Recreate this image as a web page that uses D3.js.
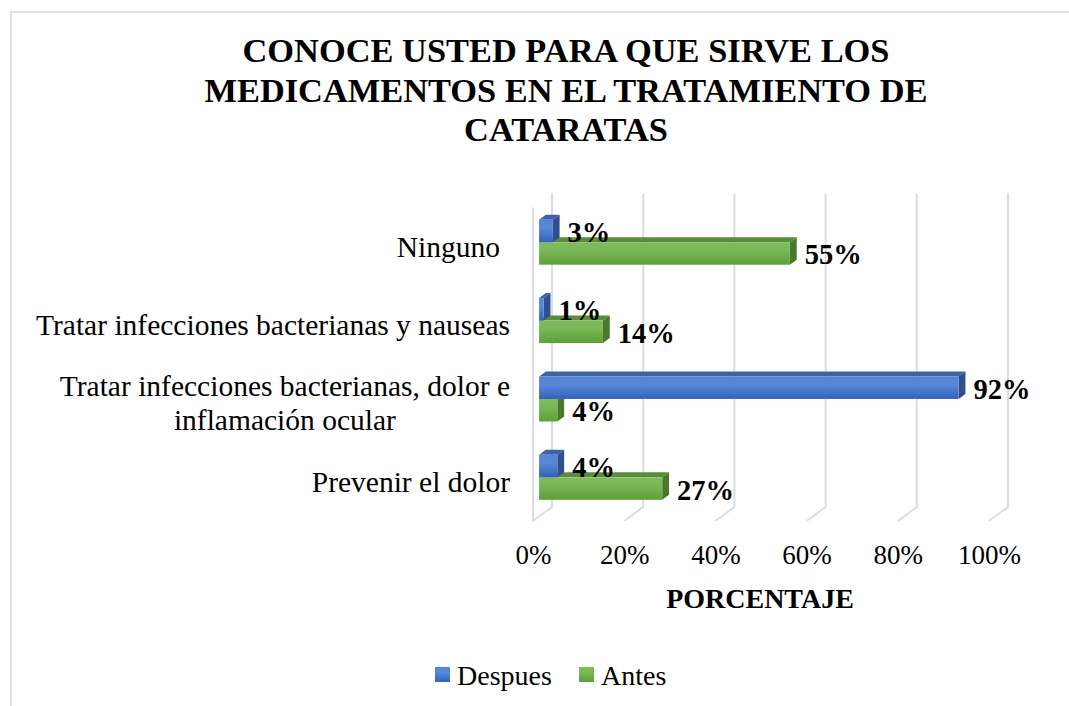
<!DOCTYPE html>
<html>
<head>
<meta charset="utf-8">
<script src="https://cdn.jsdelivr.net/npm/d3@7"></script>
</head>
<body style="margin:0">
<svg id="chart" width="1069" height="706"></svg>
<script>
/* data */
var categories = [
  "Ninguno",
  "Tratar infecciones bacterianas y nauseas",
  "Tratar infecciones bacterianas, dolor e\ninflamación ocular",
  "Prevenir el dolor"
];
var seriesNames = ["Despues", "Antes"];
var despues = [0.03, 0.01, 0.92, 0.04];
var antes   = [0.55, 0.14, 0.04, 0.27];
var tickValues = [0, 0.2, 0.4, 0.6, 0.8, 1];
var titleLines = ["CONOCE USTED PARA QUE SIRVE LOS", "MEDICAMENTOS EN EL TRATAMIENTO DE", "CATARATAS"];

var svg = d3.select("#chart");
var defs = svg.append("defs");
var ctx = document.createElement("canvas").getContext("2d");   // for text widths

function txt(sel, size, bold) {
  return sel.style("font-family", "'Liberation Serif'")
    .style("font-size", size + "px")
    .style("font-weight", bold ? "bold" : "normal")
    .style("fill", "#000");
}

// front face gradients
function grad(id, stops) {
  var g = defs.append("linearGradient").attr("id", id)
      .attr("x1", 0).attr("y1", 0).attr("x2", 0).attr("y2", 1);
  stops.forEach(function (s) {
    g.append("stop").attr("offset", s[0]).attr("stop-color", s[1]);
  });
}
grad("gBlue", [[0, "#5584d6"], [0.35, "#5a88d8"], [1, "#3162bd"]]);
grad("gGreen", [[0, "#7fbb5c"], [0.35, "#7ab856"], [1, "#5c9f37"]]);

var colors = {
  Despues: {front: "url(#gBlue)", top: "#3f62a3", side: "#2f4f8f"},
  Antes:   {front: "url(#gGreen)", top: "#5b8c3b", side: "#497a2c"}
};

// outer border
svg.append("rect")
  .attr("x", 11).attr("y", 12).attr("width", 1100).attr("height", 720)
  .attr("fill", "#fff").attr("stroke", "#dde1e9").attr("stroke-width", 2);

/* ---- 3D geometry ---- */
var depthX = 19, depthY = -14;        // full floor depth
var barZ0 = 0.32, barZ1 = 0.68;       // bars sit in the middle of the depth

var x = d3.scaleLinear().domain([0, 1]).range([533, 989]);
var y = d3.scaleBand().domain(categories).range([207.5, 521]);
var ySub = d3.scaleBand().domain(seriesNames).range([0, y.bandwidth()])
  .paddingInner(0).paddingOuter(0.742);

function px(v, z) { return x(v) + z * depthX; }
function py(yy, z) { return yy + z * depthY; }

/* ---- title ---- */
txt(svg.append("g").selectAll("text").data(titleLines).join("text"), 34.4, true)
  .attr("x", 566).attr("y", function (d, i) { return 62 + i * 39.5; })
  .attr("text-anchor", "middle")
  .text(function (d) { return d; });

txt(svg.append("text"), 28, true)
  .attr("x", 760).attr("y", 608)
  .attr("text-anchor", "middle")
  .text("PORCENTAJE");

// gridlines: back wall verticals + floor diagonals
var grid = svg.append("g").attr("stroke", "#d9dde5").attr("stroke-width", 2).attr("fill", "none");
tickValues.forEach(function (t) {
  grid.append("path").attr("d", d3.line()([
    [px(t, 1), py(y.range()[0], 1)],
    [px(t, 1), py(y.range()[1], 1)],
    [px(t, 0), py(y.range()[1], 0)]
  ]));
});
// left wall front edge
grid.append("line")
  .attr("x1", px(0, 0)).attr("x2", px(0, 0))
  .attr("y1", y.range()[0]).attr("y2", y.range()[1]);

/* ---- bars ---- */
var rows = [];
categories.forEach(function (c, i) {
  // draw lower series first so the upper one covers its top face
  rows.push({cat: c, s: "Antes", v: antes[i]});
  rows.push({cat: c, s: "Despues", v: despues[i]});
});

var bars = svg.append("g");
rows.forEach(function (d) {
  var y0 = py(y(d.cat) + ySub(d.s), barZ0);
  var h = ySub.bandwidth();
  var x0 = px(0, barZ0), x1 = px(d.v, barZ0);
  var dx = (barZ1 - barZ0) * depthX, dy = (barZ1 - barZ0) * depthY;
  var col = colors[d.s];
  var g = bars.append("g");
  g.append("path").attr("fill", col.top)
    .attr("d", d3.line()([[x0, y0], [x1, y0], [x1 + dx, y0 + dy], [x0 + dx, y0 + dy]]) + "Z");
  g.append("path").attr("fill", col.side)
    .attr("d", d3.line()([[x1, y0], [x1 + dx, y0 + dy], [x1 + dx, y0 + h + dy], [x1, y0 + h]]) + "Z");
  g.append("rect").attr("x", x0).attr("y", y0)
    .attr("width", Math.max(0, x1 - x0)).attr("height", h).attr("fill", col.front);
  d.labelX = x1 + dx + 8;
  d.labelY = y0 + h / 2 + 11;
});

// data labels
txt(svg.append("g").selectAll("text").data(rows).join("text"), 28.5, true)
  .attr("x", function (d) { return d.labelX; })
  .attr("y", function (d) { return d.labelY; })
  .text(function (d) { return d3.format(".0%")(d.v); });

/* ---- category labels ---- */
// right aligned block; the second line of a wrapped label is centred under the first
var catG = svg.append("g");
var CAT_SIZE = 29.5;
categories.forEach(function (c) {
  var lines = c.split("\n");
  var cy = y(c) + y.bandwidth() / 2;
  var lh = 34;
  var right = (c === "Ninguno") ? 500 : 510;
  var t = txt(catG.append("text"), CAT_SIZE, false).attr("text-anchor", "end");
  ctx.font = CAT_SIZE + "px 'Liberation Serif'";
  var w0 = ctx.measureText(lines[0]).width;
  lines.forEach(function (ln, k) {
    var shift = k > 0 ? (w0 - ctx.measureText(ln).width) / 2 : 0;
    t.append("tspan").text(ln)
      .attr("x", right - shift)
      .attr("y", cy + 10 + (k - (lines.length - 1) / 2) * lh);
  });
});

/* ---- value axis ---- */
var axis = svg.append("g")
  .attr("transform", "translate(0,540)")
  .call(d3.axisBottom(x).tickValues(tickValues).tickSize(0).tickFormat(d3.format(".0%")));
axis.select(".domain").remove();
axis.attr("font-family", null);
txt(axis.selectAll("text"), 27, false)
  .attr("y", 24).attr("dy", 0);

/* ---- legend ---- */
var legend = svg.append("g");
var legendX = [435, 579];
seriesNames.forEach(function (s, i) {
  legend.append("rect")
    .attr("x", legendX[i]).attr("y", 667).attr("width", 15).attr("height", 15)
    .attr("fill", colors[s].front);
  txt(legend.append("text"), 28, false)
    .attr("x", legendX[i] + 22).attr("y", 685)
    .text(s);
});
</script>
</body>
</html>
